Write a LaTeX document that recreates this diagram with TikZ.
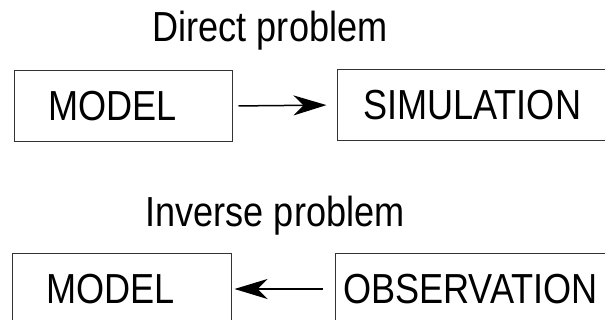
\documentclass[tikz,border=0pt]{standalone}
\usepackage{fontspec}
\setmainfont{Liberation Sans}[FakeStretch=0.86]
\usepackage{tikz}
\usetikzlibrary{arrows.meta}

\begin{document}
\begin{tikzpicture}[
    x=1pt, y=1pt,
    every node/.style={font=\fontsize{42}{48}\selectfont},
    box/.style={rectangle, draw=black!80, line width=1pt,
                minimum height=71pt, align=left},
    arrow/.style={-{Stealth[length=33pt, width=20pt, inset=10pt]}, line width=1.5pt},
  ]
    \clip (0,0) rectangle (605,-320);

    % Direct problem
    \node[anchor=base] (direct) at (270,-42) {Direct problem};
    \node[box, inner xsep=34pt, text width=150pt] (modelA) at (123,-106) {MODEL};
    \node[box, inner xsep=26pt, text width=226pt] (simul) at (476,-105) {SIMULATION};
    \draw[arrow, shorten <=6pt, shorten >=10pt] (modelA.east) -- (simul.west);

    % Inverse problem
    \node[anchor=base] (inverse) at (275,-227) {Inverse problem};
    \node[box, inner xsep=34pt, text width=151pt] (modelB) at (121.5,-289) {MODEL};
    \node[box, inner xsep=8pt, text width=274pt] (observ) at (480,-289) {OBSERVATION};
    \draw[arrow, shorten <=12pt, shorten >=3pt] (observ.west) -- (modelB.east);
  \end{tikzpicture}
\end{document}
